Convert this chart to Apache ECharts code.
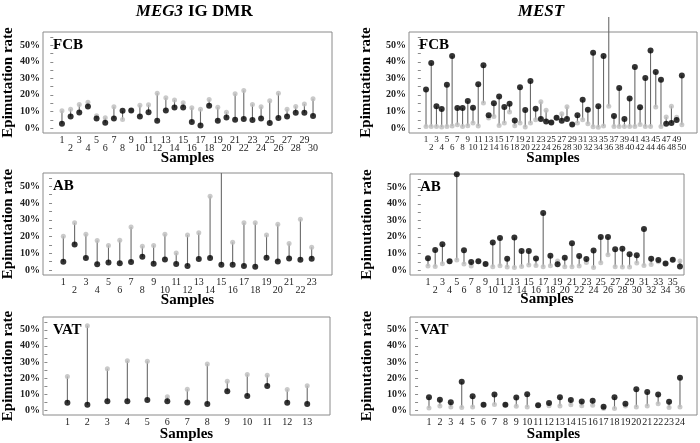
<!DOCTYPE html>
<html>
<head>
<meta charset="utf-8">
<script src="https://cdn.jsdelivr.net/npm/echarts@6/dist/echarts.min.js"></script>
<style>
  html, body { margin: 0; padding: 0; background: #fff; }
  #chart { width: 700px; height: 443px; }
</style>
</head>
<body>
<div id="chart"></div>
<script>
  // sample values (%), black = sample, gray = reference
  const megFcbBlack = [2.6, 7, 9.4, 13, 5.8, 3.2, 5.8, 10.4, 10.6, 7, 9.6, 4.4, 10.6, 12.4, 12.4, 3.6, 1.6, 13.4, 4.4, 6.4, 5, 5.4, 4.8, 5.8, 3, 6, 7, 9.2, 9.2, 7.2]
  const megFcbGray = [10.4, 11.4, 14.2, 15.5, 7.4, 6.2, 12.8, 5.2, 10.6, 13.7, 14, 21, 18.3, 17, 15.2, 12.2, 11.4, 17.2, 12.6, 9.6, 20.7, 22.7, 14.2, 12.8, 16.5, 21, 11.4, 13, 14.5, 17.7]

  const mestFcbBlack = [23.2, 39.3, 13.1, 11.5, 26.2, 43.5, 12.1, 12.1, 16.3, 12.3, 26.4, 37.9, 7.7, 14.9, 19, 12.7, 14.7, 4.6, 24.6, 10.9, 28.4, 11.7, 5.4, 4, 3.4, 6.2, 4.4, 5.4, 2.2, 7.7, 17.1, 11.1, 45.4, 13.1, 43.5, 67, 7.3, 24.2, 5.5, 17.8, 36.9, 12.5, 30.2, 46.8, 33.8, 29.2, 2.6, 3, 4.8, 31.8]
  const mestFcbGray = [1, 1, 1, 0.6, 1, 1.2, 2, 1, 1.4, 3, 1.2, 15.1, 6, 7, 1.6, 3, 9.7, 1.4, 3, 0.6, 3, 5, 15.9, 10.7, 3.4, 6.2, 8.7, 12.9, 2.2, 3, 5, 2.6, 0.8, 0.4, 1.2, 13.1, 1, 1, 1, 1, 1, 2.2, 1, 1, 12.7, 1, 6.7, 13.1, 6.5, 2]

  const megAbBlack = [4.9, 15.2, 7.1, 3.4, 4.5, 4, 4.7, 7.9, 3.8, 6.3, 3.6, 2.4, 6.5, 7.1, 3.2, 3.2, 2.4, 2, 7.3, 5.1, 6.9, 6.1, 6.7]
  const megAbGray = [20.2, 28.3, 21.3, 17.6, 14.6, 17.8, 25.7, 14.2, 14.6, 21.3, 10.1, 20.9, 22.3, 44.1, 70, 16.6, 28.3, 28.3, 20.9, 27.3, 15.8, 30.4, 13.6]

  const mestAbBlack = [7.1, 12.1, 15.6, 5.3, 57.8, 11.9, 4.9, 5.3, 3.6, 16.6, 19.3, 6.8, 19.6, 11.5, 11.5, 7, 34.5, 8.7, 3.5, 7.4, 16.2, 8.5, 6.7, 11.8, 20, 20, 12.6, 12.8, 9.6, 9, 24.8, 6.8, 6, 4, 6.2, 2.2]
  const mestAbGray = [2.4, 2.2, 3.8, 5.3, 6, 3.6, 2.4, 5.3, 3.6, 2, 2.6, 1.8, 1.6, 2.2, 3, 2.8, 2, 2.6, 5.5, 2, 2, 2.4, 4.5, 1.6, 4.4, 9.2, 2, 1.8, 1.8, 4.2, 2.8, 3.4, 5, 4, 6.2, 5.5]

  const megVatBlack = [4.6, 3.4, 5.6, 5.6, 6.4, 5.6, 4.8, 3.8, 11.8, 8.8, 15, 4.6, 3.8]
  const megVatGray = [21, 52.6, 25.8, 30.8, 30.4, 8.4, 13, 28.8, 18, 22.2, 21.8, 12.8, 15.2]

  const mestVatBlack = [8.1, 6.5, 5, 17.7, 8.7, 3.4, 9.7, 3.4, 7.9, 9.9, 3, 4.4, 8.1, 6.3, 5.4, 5.8, 2.2, 8.1, 4, 13.1, 11.3, 9.7, 5.2, 20.2]
  const mestVatGray = [1.4, 2.6, 2, 1.6, 2, 3.4, 3.6, 3.4, 2.4, 2, 3, 2.8, 2.6, 3.4, 2.8, 3, 1, 1, 2.6, 2, 2.6, 4, 1.6, 2]

  const yTicks = [0, 10, 20, 30, 40, 50]
  const yMinor = [0, 5, 10, 15, 20, 25, 30, 35, 40, 45, 50, 55]

  const panels = [
    { label: "FCB", black: megFcbBlack, gray: megFcbGray, left: 43, top: 32, width: 289, height: 101, xMin: -1.19, xMax: 32.19, twoRow: true, fs: 10, nameGap: 18, yGap: 27, clip: true },
    { label: "FCB", black: mestFcbBlack, gray: mestFcbGray, left: 409, top: 32, width: 288, height: 101, xMin: -2.26, xMax: 52.9, twoRow: true, fs: 9, nameGap: 18, yGap: 35, clip: false },
    { label: "AB", black: megAbBlack, gray: megAbGray, left: 43, top: 173, width: 289, height: 102, xMin: -0.8, xMax: 24.8, twoRow: true, fs: 10, nameGap: 18, yGap: 27, clip: true },
    { label: "AB", black: mestAbBlack, gray: mestAbGray, left: 410, top: 174, width: 274, height: 101, xMin: -1.5, xMax: 36.56, twoRow: true, fs: 10, nameGap: 17, yGap: 35, clip: true },
    { label: "VAT", black: megVatBlack, gray: megVatGray, left: 43, top: 317, width: 287, height: 100, xMin: -0.22, xMax: 14.14, twoRow: false, fs: 10, nameGap: 12, yGap: 27, clip: true },
    { label: "VAT", black: mestVatBlack, gray: mestVatGray, left: 410, top: 317, width: 287, height: 100, xMin: -0.74, xMax: 25.56, twoRow: false, fs: 10, nameGap: 12, yGap: 35, clip: true },
  ]

  const serif = "'Liberation Serif', 'DejaVu Serif', serif"
  const grid = [], xAxis = [], yAxis = [], series = [], graphic = []

  panels.forEach((p, i) => {
    const samples = p.black.map((v, k) => k + 1)
    const odd = p.twoRow ? samples.filter((s) => s % 2 === 1) : samples
    const even = samples.filter((s) => s % 2 === 0)
    grid.push({
      left: p.left, top: p.top, width: p.width, height: p.height,
      show: true, borderColor: "#8a8a8a", borderWidth: 1, backgroundColor: "#fff",
    })
    const xIdx = xAxis.length
    xAxis.push({
      type: "value", gridIndex: i, min: p.xMin, max: p.xMax,
      splitLine: { show: false }, axisLine: { show: false }, axisTick: { show: false },
      axisLabel: {
        customValues: odd, hideOverlap: false,
        fontFamily: serif, fontSize: p.fs, color: "#222", margin: 2,
      },
      name: "Samples", nameLocation: "middle", nameGap: p.nameGap, nameMoveOverlap: false,
      nameTextStyle: { fontFamily: serif, fontWeight: "bold", fontSize: 15, color: "#000" },
    })
    if (p.twoRow) {
      // second row of sample numbers (even samples)
      xAxis.push({
        type: "value", gridIndex: i, min: p.xMin, max: p.xMax, position: "bottom",
        splitLine: { show: false }, axisLine: { show: false }, axisTick: { show: false },
        axisLabel: {
          customValues: even, hideOverlap: false,
          fontFamily: serif, fontSize: p.fs, color: "#222", margin: 10,
        },
      })
    }
    yAxis.push({
      type: "value", gridIndex: i, min: -3, max: 58,
      splitLine: { show: false }, axisLine: { show: false },
      axisTick: { show: true, customValues: yMinor, length: 3, lineStyle: { color: "#8a8a8a" } },
      axisLabel: {
        customValues: yTicks, formatter: "{value}%",
        fontFamily: serif, fontWeight: "bold", fontSize: 10, color: "#222", margin: 3,
      },
      name: "Epimutation rate", nameLocation: "middle", nameGap: p.yGap, nameMoveOverlap: false,
      nameTextStyle: { fontFamily: serif, fontWeight: "bold", fontSize: 15, color: "#000" },
    })
    const pairs = p.black.map((v, k) => [k + 1, v, p.gray[k]])
    series.push({
      type: "custom", xAxisIndex: xIdx, yAxisIndex: i, clip: p.clip, z: 1,
      data: pairs,
      renderItem: (params, api) => {
        const a = api.coord([api.value(0), api.value(1)])
        const b = api.coord([api.value(0), api.value(2)])
        return {
          type: "line",
          shape: { x1: a[0], y1: a[1], x2: b[0], y2: b[1] },
          style: { stroke: "#6a6a6a", lineWidth: 1.1 },
        }
      },
    })
    series.push({
      type: "scatter", xAxisIndex: xIdx, yAxisIndex: i, clip: true, z: 2,
      symbolSize: 5, itemStyle: { color: "#bdbdbd" },
      data: pairs.map((d) => [d[0], d[2]]),
    })
    series.push({
      type: "scatter", xAxisIndex: xIdx, yAxisIndex: i, clip: true, z: 3,
      symbolSize: 6, itemStyle: { color: "#000" },
      data: pairs.map((d) => [d[0], d[1]]),
    })
    graphic.push({
      type: "text", left: p.left + 10, top: p.top + 6, z: 10,
      style: { text: p.label, font: "bold 15px " + serif, fill: "#000" },
    })
  })

  // column titles
  graphic.push({
    type: "text", x: 183, y: 12, z: 10,
    style: { text: "MEG3", font: "italic bold 17px " + serif, fill: "#000", textAlign: "right", textVerticalAlign: "middle" },
  })
  graphic.push({
    type: "text", x: 188, y: 12, z: 10,
    style: { text: "IG DMR", font: "bold 17px " + serif, fill: "#000", textAlign: "left", textVerticalAlign: "middle" },
  })
  graphic.push({
    type: "text", x: 541, y: 12, z: 10,
    style: { text: "MEST", font: "italic bold 17px " + serif, fill: "#000", textAlign: "center", textVerticalAlign: "middle" },
  })

  const chart = echarts.init(document.getElementById("chart"))
  chart.setOption({
    backgroundColor: "#fff",
    animation: false,
    grid: grid,
    xAxis: xAxis,
    yAxis: yAxis,
    series: series,
    graphic: graphic,
  })
</script>
</body>
</html>
